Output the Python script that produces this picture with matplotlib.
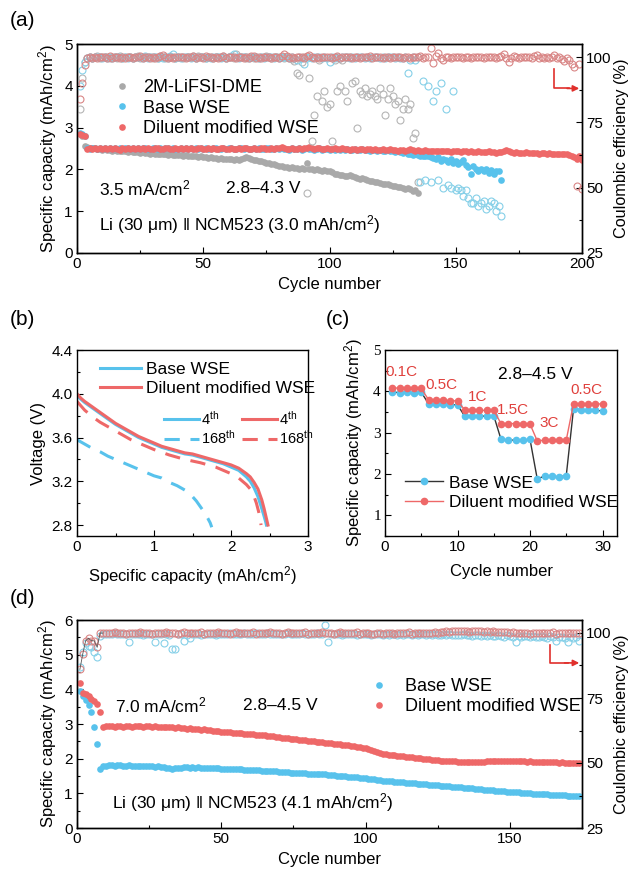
import matplotlib
matplotlib.use('Agg')
import matplotlib.pyplot as plt
import numpy as np
from matplotlib.lines import Line2D
from matplotlib.ticker import MultipleLocator

plt.rcParams['font.family'] = ['Liberation Sans', 'DejaVu Sans']
plt.rcParams['mathtext.fontset'] = 'custom'
plt.rcParams['mathtext.rm'] = 'Liberation Sans'
plt.rcParams['mathtext.it'] = 'Liberation Sans'
plt.rcParams['mathtext.default'] = 'regular'
plt.rcParams['xtick.direction'] = 'in'
plt.rcParams['ytick.direction'] = 'in'

# ---------------- Panel (a) data ----------------
a_red_cap = [2.85,2.82,2.80,2.49,2.50,2.48,2.51,2.49,2.50,2.48,
             2.50,2.49,2.51,2.48,2.50,2.49,2.47,2.50,2.49,2.51,
             2.48,2.50,2.49,2.50,2.48,2.51,2.49,2.50,2.48,2.49,
             2.51,2.50,2.48,2.49,2.50,2.52,2.49,2.48,2.50,2.49,
             2.50,2.48,2.51,2.49,2.50,2.49,2.48,2.50,2.51,2.49,
             2.48,2.50,2.49,2.50,2.48,2.49,2.51,2.50,2.48,2.49,
             2.50,2.49,2.48,2.50,2.49,2.51,2.50,2.48,2.49,2.50,
             2.49,2.48,2.50,2.51,2.49,2.48,2.50,2.49,2.50,2.52,
             2.53,2.50,2.48,2.49,2.50,2.49,2.48,2.50,2.49,2.51,
             2.52,2.53,2.50,2.49,2.51,2.50,2.48,2.49,2.50,2.49,
             2.48,2.50,2.49,2.48,2.50,2.49,2.48,2.47,2.49,2.48,
             2.47,2.49,2.48,2.47,2.48,2.49,2.47,2.48,2.46,2.47,
             2.48,2.46,2.47,2.48,2.46,2.47,2.45,2.46,2.47,2.45,
             2.46,2.48,2.47,2.45,2.46,2.44,2.45,2.46,2.44,2.45,
             2.44,2.45,2.43,2.44,2.45,2.43,2.44,2.42,2.43,2.44,
             2.43,2.42,2.44,2.43,2.42,2.43,2.41,2.42,2.43,2.42,
             2.41,2.42,2.43,2.41,2.42,2.40,2.41,2.42,2.44,2.46,
             2.43,2.41,2.40,2.41,2.40,2.39,2.40,2.41,2.40,2.39,
             2.40,2.39,2.38,2.39,2.40,2.38,2.39,2.38,2.37,2.38,
             2.37,2.38,2.36,2.37,2.35,2.33,2.30,2.25,2.32,2.22]

a_blue_cap = [2.88,2.84,2.80,2.50,2.49,2.51,2.50,2.48,2.50,2.49,
              2.50,2.48,2.51,2.49,2.50,2.48,2.50,2.49,2.51,2.50,
              2.49,2.50,2.48,2.50,2.49,2.51,2.50,2.48,2.49,2.50,
              2.51,2.49,2.50,2.48,2.50,2.52,2.49,2.50,2.48,2.49,
              2.50,2.49,2.51,2.48,2.50,2.49,2.50,2.48,2.51,2.49,
              2.50,2.48,2.49,2.50,2.51,2.49,2.48,2.50,2.49,2.51,
              2.50,2.48,2.49,2.50,2.52,2.49,2.50,2.48,2.49,2.50,
              2.49,2.50,2.48,2.49,2.51,2.50,2.49,2.48,2.50,2.49,
              2.50,2.48,2.49,2.47,2.50,2.49,2.48,2.50,2.47,2.49,
              2.50,2.48,2.49,2.47,2.48,2.50,2.47,2.49,2.48,2.46,
              2.48,2.47,2.49,2.46,2.48,2.47,2.49,2.46,2.47,2.48,
              2.46,2.47,2.48,2.46,2.47,2.45,2.47,2.46,2.45,2.47,
              2.45,2.44,2.46,2.43,2.44,2.42,2.43,2.41,2.40,2.41,
              2.38,2.36,2.35,2.36,2.34,2.33,2.32,2.33,2.31,2.30,
              2.28,2.25,2.30,2.20,2.26,2.22,2.18,2.24,2.15,2.20,
              2.12,2.18,2.22,2.10,2.05,1.90,2.08,2.00,1.96,2.02,
              1.95,2.00,1.92,1.98,1.90,1.95,1.97,1.75]

a_gray_cap = [2.85,2.80,2.56,2.53,2.52,2.50,2.51,2.49,2.48,2.47,
              2.48,2.46,2.47,2.45,2.46,2.44,2.45,2.43,2.44,2.42,
              2.43,2.42,2.41,2.42,2.40,2.41,2.39,2.40,2.38,2.39,
              2.38,2.37,2.38,2.36,2.37,2.35,2.36,2.35,2.34,2.35,
              2.34,2.33,2.34,2.32,2.33,2.31,2.32,2.30,2.31,2.30,
              2.29,2.28,2.29,2.27,2.28,2.26,2.27,2.25,2.26,2.24,
              2.25,2.23,2.24,2.22,2.26,2.28,2.29,2.27,2.25,2.23,
              2.22,2.20,2.19,2.18,2.16,2.15,2.13,2.12,2.10,2.08,
              2.07,2.06,2.05,2.04,2.05,2.03,2.04,2.02,2.03,2.01,
              2.15,2.02,2.00,1.99,2.01,1.98,1.97,1.99,1.96,1.95,
              1.93,1.90,1.88,1.86,1.87,1.85,1.84,1.86,1.85,1.83,
              1.80,1.78,1.80,1.76,1.74,1.73,1.72,1.70,1.69,1.68,
              1.66,1.65,1.64,1.62,1.61,1.60,1.58,1.57,1.55,1.54,
              1.55,1.52,1.48,1.50,1.43]

a_red_ce = [84,90,97,99.5,100,99.8,100.2,99.6,100.1,99.9,
            100,99.7,100.3,99.8,100,100.2,99.6,100.1,99.8,100,
            100.2,99.7,100,99.9,100.3,99.6,100,100.1,99.8,100.2,
            99.7,100,100.4,100.8,100.2,99.5,100,99.8,100.1,99.9,
            100,100.2,99.7,100,99.9,100.3,99.8,100,100.1,99.7,
            100.3,99.9,100,99.8,100.2,99.7,100,100.4,99.8,100.1,
            99.9,100.2,99.5,100,100.1,99.8,100.2,99.7,100.3,100.5,
            99.8,100,99.6,100.1,99.9,100.2,99.8,100,100.1,99.7,
            100.3,101.2,100.4,99.6,100,99.8,100.1,99.9,100.2,99.5,
            100.3,100.9,100.2,99.8,100,99.7,100.1,99.9,100,100.2,
            99.8,100,100.3,99.7,100.1,99.9,100,100.2,99.8,100,
            100.1,99.7,100.2,99.9,100,100.3,99.8,100,99.9,100.2,
            99.7,100.1,100,99.8,100.2,99.9,100,100.1,99.8,100,
            100.2,99.7,100,99.9,100.1,100.3,99.8,100,100.2,103.5,
            97.8,100.5,101.5,99.5,99,100.2,100,99.8,100.1,99.9,
            100,100.2,99.7,100,100.1,99.8,100.2,99.9,100,100.1,
            99.8,100,100.2,99.9,100.1,99.7,100,100.3,101.2,99.5,
            98,99.5,100.3,100,99.8,100.2,99.9,100.1,100,99.8,
            100.4,100.9,99.7,100.2,99.8,100,99.6,100.1,100.7,99.5,
            100,99.2,98.5,99.6,98.8,97.2,96.2,50.5,97.5,49.5]

a_blue_ce = [89,95,98,99.8,100,99.6,100.2,99.9,100,99.7,
             100.1,99.8,100,99.6,100.2,99.9,100,99.7,100.1,99.8,
             100,99.6,100.2,99.9,100,99.8,100.3,99.7,100,99.9,
             100.2,99.6,100,99.8,100.1,99.7,100.3,101,99.8,100,
             99.7,100.1,99.9,100,99.6,100.2,99.8,100,99.9,100.1,
             99.7,100,99.8,100.2,99.9,100,99.6,100.1,99.8,100,
             100.4,101.3,100,99.7,100.1,99.9,100,99.8,100.2,99.9,
             100,99.7,100.1,99.8,100,99.9,100.2,99.7,100,99.8,
             100.1,99.9,100,99.6,100.2,99.8,99,100,99.8,97.5,
             99.8,100,99.7,100.1,99.9,100,99.8,100.2,99.6,98,
             100,99.8,100.1,99.7,100,99.9,100.2,99.8,100,99.7,
             100.1,99.9,100,99.8,100.2,99.7,100,99.9,100.1,99.8,
             100,99.7,100.1,99.9,100,99.8,100.2,99.5,99.8,100,
             94,99,100,99,100,52,91,53,89,52,
             83,87,53,90,50,80,51,50,87,49,
             50,49,47,49,46,44,44,46,43,44,
             45,42,43,45,44,41,43,39]

a_gray_ce = [80,92,98,99.8,100.2,99.7,100,100.3,99.8,100.1,
             99.9,100.2,99.6,100,100.1,99.8,100.3,99.7,100,99.9,
             100.2,99.8,100,100.4,99.6,100.1,99.9,100,100.2,99.7,
             100,99.8,100.3,100.1,99.6,100,99.9,100.2,99.8,100,
             100.1,99.7,100.2,99.9,100,100.3,99.8,100.5,99.9,100.1,
             99.8,100,100.2,99.7,100.1,99.9,100,100.3,99.6,100,
             100.1,99.8,101,100,99.9,100.2,99.7,100,100.1,99.8,
             100,99.7,100.2,99.9,100.4,100,99.8,100.1,99.9,100,
             100.2,99.7,100,99.9,99.2,98.5,94,93,98,100,
             48,92,68,78,85,99,83,87,81,82,
             68,99,87,89,99,87,83,100,90,91,
             73,87,86,88,85,86,87,85,84,88,
             86,78,84,88,85,82,83,76,80,84,
             80,82,69,71,52]

# ---------------- Panel (b) data ----------------
b_blue4_q = [0,0.05,0.1,0.2,0.3,0.4,0.5,0.6,0.7,0.8,0.9,1.0,1.1,1.2,1.3,1.4,1.5,1.6,1.7,1.8,1.9,2.0,2.1,2.2,2.25,2.3,2.35,2.4,2.43,2.45,2.46]
b_blue4_v = [3.98,3.95,3.92,3.87,3.82,3.77,3.72,3.68,3.64,3.60,3.57,3.54,3.51,3.49,3.47,3.45,3.44,3.42,3.40,3.38,3.36,3.33,3.30,3.24,3.20,3.14,3.06,2.95,2.88,2.83,2.80]
b_red4_q = [0,0.05,0.1,0.2,0.3,0.4,0.5,0.6,0.7,0.8,0.9,1.0,1.1,1.2,1.3,1.4,1.5,1.6,1.7,1.8,1.9,2.0,2.1,2.2,2.25,2.3,2.35,2.4,2.43,2.46,2.48]
b_red4_v = [4.00,3.96,3.93,3.88,3.83,3.78,3.73,3.69,3.65,3.61,3.58,3.55,3.52,3.50,3.48,3.46,3.45,3.43,3.41,3.39,3.37,3.35,3.32,3.27,3.24,3.19,3.13,3.03,2.95,2.86,2.80]
b_red168_q = [0,0.05,0.1,0.2,0.3,0.4,0.5,0.6,0.7,0.8,0.9,1.0,1.2,1.4,1.6,1.8,1.9,2.0,2.1,2.2,2.25,2.3,2.33,2.36,2.38,2.39]
b_red168_v = [3.93,3.89,3.85,3.79,3.74,3.70,3.66,3.62,3.58,3.55,3.52,3.49,3.44,3.40,3.37,3.33,3.30,3.27,3.23,3.17,3.13,3.06,3.00,2.92,2.85,2.80]
b_blue168_q = [0,0.1,0.2,0.3,0.4,0.5,0.6,0.7,0.8,0.9,1.0,1.1,1.2,1.3,1.4,1.5,1.55,1.6,1.65,1.7,1.73,1.75]
b_blue168_v = [3.58,3.54,3.50,3.47,3.43,3.40,3.37,3.34,3.31,3.28,3.25,3.23,3.19,3.16,3.12,3.06,3.02,2.97,2.92,2.86,2.82,2.78]

# ---------------- Panel (c) data ----------------
c_cycles = list(range(1, 31))
c_blue = [3.98,3.97,3.98,3.97,3.98, 3.70,3.69,3.70,3.68,3.67,
          3.40,3.41,3.40,3.40,3.41, 2.84,2.82,2.82,2.82,2.84,
          1.88,1.95,1.95,1.93,1.96, 3.57,3.56,3.55,3.55,3.52]
c_red = [4.08,4.08,4.08,4.07,4.07, 3.80,3.78,3.78,3.77,3.77,
         3.55,3.54,3.54,3.54,3.54, 3.22,3.22,3.22,3.22,3.21,
         2.80,2.82,2.82,2.82,2.82, 3.70,3.70,3.70,3.70,3.69]
c_rate_labels = ['0.1C', '0.5C', '1C', '1.5C', '3C', '0.5C']
c_rate_x = [2.3, 7.8, 12.8, 17.7, 22.7, 27.8]
c_rate_y = [4.47, 4.15, 3.86, 3.55, 3.23, 4.03]

# ---------------- Panel (d) data ----------------
d_red_cap = [4.17,3.90,3.86,3.80,3.73,3.66,3.58,3.36,
             2.92,2.93,2.94,2.93,2.92,2.94,2.93,2.92,2.94,2.93,2.92,2.93,
             2.94,2.93,2.92,2.93,2.94,2.92,2.93,2.92,2.91,2.92,
             2.91,2.90,2.91,2.89,2.90,2.88,2.89,2.87,2.88,2.86,
             2.86,2.85,2.84,2.85,2.83,2.82,2.81,2.80,2.79,2.78,
             2.77,2.77,2.76,2.75,2.74,2.74,2.73,2.72,2.71,2.71,
             2.70,2.69,2.68,2.68,2.67,2.66,2.65,2.64,2.63,2.62,
             2.61,2.60,2.59,2.58,2.57,2.56,2.55,2.54,2.53,2.52,
             2.51,2.50,2.49,2.48,2.47,2.46,2.45,2.44,2.43,2.42,
             2.41,2.40,2.39,2.38,2.37,2.36,2.35,2.34,2.32,2.30,
             2.27,2.24,2.21,2.18,2.16,2.14,2.13,2.12,2.11,2.10,
             2.09,2.08,2.07,2.06,2.05,2.04,2.03,2.02,2.01,2.00,
             1.99,1.98,1.97,1.96,1.95,1.94,1.93,1.93,1.92,1.92,
             1.92,1.91,1.91,1.91,1.90,1.90,1.91,1.90,1.90,1.91,
             1.91,1.92,1.92,1.93,1.92,1.93,1.93,1.92,1.93,1.92,
             1.93,1.92,1.92,1.93,1.92,1.91,1.92,1.91,1.90,1.91,
             1.90,1.90,1.89,1.90,1.89,1.89,1.88,1.89,1.88,1.88,
             1.87,1.88,1.87,1.87]

d_blue_cap = [3.95,3.82,3.68,3.55,3.36,2.90,2.42,1.70,
              1.78,1.80,1.82,1.81,1.80,1.82,1.81,1.80,1.79,1.81,1.80,1.79,
              1.80,1.79,1.78,1.79,1.80,1.78,1.77,1.78,1.77,1.76,
              1.74,1.72,1.71,1.72,1.73,1.74,1.75,1.75,1.74,1.75,
              1.74,1.75,1.74,1.73,1.74,1.73,1.72,1.73,1.72,1.71,
              1.71,1.70,1.71,1.70,1.69,1.70,1.69,1.68,1.68,1.67,
              1.67,1.66,1.66,1.65,1.65,1.64,1.64,1.63,1.63,1.62,
              1.62,1.61,1.61,1.60,1.60,1.59,1.59,1.58,1.58,1.57,
              1.57,1.56,1.56,1.55,1.55,1.57,1.53,1.52,1.52,1.51,
              1.50,1.50,1.49,1.48,1.47,1.47,1.46,1.45,1.44,1.43,
              1.42,1.41,1.40,1.39,1.38,1.37,1.37,1.36,1.35,1.34,
              1.33,1.33,1.32,1.31,1.30,1.30,1.29,1.28,1.27,1.27,
              1.26,1.25,1.24,1.24,1.23,1.22,1.21,1.21,1.20,1.19,
              1.18,1.18,1.17,1.16,1.15,1.15,1.14,1.13,1.12,1.12,
              1.11,1.10,1.09,1.09,1.08,1.07,1.06,1.06,1.05,1.05,
              1.04,1.03,1.03,1.02,1.01,1.01,1.00,0.99,0.99,0.98,
              0.98,0.97,0.97,0.96,0.96,0.95,0.95,0.94,0.94,0.93,
              0.93,0.92,0.92,0.91]

d_red_ce = [86,92,97,98,97,97,94.5,100,
            100,100.1,99.9,100,100.2,99.9,100,100.1,99.8,100,100.1,99.9,
            100,100.2,99.9,100,100.1,99.8,100,100.1,99.9,100,
            100.2,99.9,100,100.1,99.8,100,100.2,99.9,100,100.1,
            99.9,100,100.2,99.8,100,100.1,99.9,100,100.2,99.9,
            100,100.1,99.8,100,100.2,99.9,100,100.1,99.9,100,
            100.2,99.8,100,100.1,99.9,100,100.2,99.9,100,100.1,
            99.8,100,100.2,99.9,100,100.1,99.9,100,100.2,99.8,
            100,100.1,99.9,100,100.2,99.9,100,100.1,99.8,100,
            100.2,99.9,100,100.1,99.9,100,100.2,99.8,100,100.1,
            99.9,99.6,99.8,100,100.1,99.7,100,99.9,100.1,99.8,
            100,100.1,99.9,100,100.2,99.8,100,100.1,99.9,100,
            100.1,99.9,100,100.2,100.1,100.3,100.4,100.6,100.5,100.7,
            100.6,100.8,100.7,100.6,100.8,100.5,100.7,100.9,100.6,100.7,
            100.5,100.6,100.4,100.6,100.3,100.5,100.2,100.4,100.3,100.1,
            100.2,100,100.1,99.9,100,100.1,99.8,100,100.1,99.9,
            100,100.1,99.9,100,100.2,99.8,100,100.1,99.9,100,
            100.1,99.9,100,100.1]

d_blue_ce = [87,92.7,96,95,94.5,92.7,90.8,99,
             99.6,99.8,99.5,99.7,99.9,99.6,99.8,99.5,99.7,96.5,99.6,99.8,
             99.5,99.7,99.4,99.6,99.8,99.5,96.5,99.7,99.5,96,
             99.6,99.3,94,94,99.5,99.7,97,99.4,98,99.6,
             99.5,99.7,99.4,99.6,99.8,99.5,99.7,99.4,99.6,99.8,
             99.5,99.7,99.9,99.6,99.8,99.5,99.7,99.9,99.6,99.8,
             99.7,99.9,99.6,99.8,99.7,99.9,99.6,99.8,99.7,99.5,
             99.8,99.6,99.9,99.7,99.5,99.8,99.6,99.9,99.7,99.5,
             99.8,99.6,99.9,99.7,99.5,103,96.5,99.6,99.8,99.5,
             99.7,99.4,99.6,99.8,99.5,99.7,99.4,99.6,99.8,99.5,
             99.7,99.4,99.6,99.8,99.5,99.3,99.6,99.2,99.5,99.7,
             99.4,99.6,99.3,99.5,99.7,99.4,99.6,99.3,99.5,99.7,
             99.4,99.6,99.3,99.5,99.2,99.4,99.6,99.3,99.5,99.2,
             99.4,99.1,99.3,99.5,99.2,99.4,99.0,99.3,99.1,98.8,
             99.2,98.9,99.3,99.0,98.7,99.2,98.9,98.5,99.1,98.8,
             98.6,96.5,98.9,98.6,99.0,98.7,98.4,98.9,98.6,98.3,
             98.8,98.5,98.2,98.7,98.4,97,98.6,98.3,98.0,96.5,
             98.4,98.1,98.5,97]

# ---------------- styles ----------------
RED = '#EE6868'
BLUE = '#58C2EC'
GRAY = '#A9A9A9'
RED_O = '#D98686'
BLUE_O = '#86D0E8'
GRAY_O = '#B5B5B5'
ARROW = '#E0302C'
TFS = 11
LFS = 12.5
MS = 4.8
W, H = 632.0, 871.0


def cyc(v):
    return np.arange(1, len(v) + 1)


def rect(l, r, t, b):
    return [l / W, 1 - b / H, (r - l) / W, (b - t) / H]


def style(ax):
    ax.tick_params(labelsize=TFS, length=4, width=0.8, pad=3)
    ax.tick_params(which='minor', length=2.5, width=0.8)
    for s in ax.spines.values():
        s.set_linewidth(1.0)


fig = plt.figure(figsize=(6.32, 8.71), dpi=100)

# ================= (a) =================
axa = fig.add_axes(rect(77, 582, 44, 253))
axa.plot(cyc(a_gray_cap), a_gray_cap, 'o', ms=MS, color=GRAY, mec='none', label='2M-LiFSI-DME', zorder=3)
axa.plot(cyc(a_blue_cap), a_blue_cap, 'o', ms=MS, color=BLUE, mec='none', label='Base WSE', zorder=4)
axa.plot(cyc(a_red_cap), a_red_cap, 'o', ms=MS, color=RED, mec='none', label='Diluent modified WSE', zorder=5)
axa.set_xlim(0, 200)
axa.set_ylim(0, 5)
axa.xaxis.set_major_locator(MultipleLocator(50))
axa.xaxis.set_minor_locator(MultipleLocator(25))
axa.yaxis.set_major_locator(MultipleLocator(1))
axa.set_xlabel('Cycle number', fontsize=LFS - 0.5, labelpad=4)
axa.set_ylabel('Specific capacity (mAh/cm$^2$)', fontsize=LFS - 0.5, labelpad=4)
style(axa)
axa2 = axa.twinx()
axa2.plot(cyc(a_gray_ce), a_gray_ce, 'o', ms=5, mfc='none', mec=GRAY_O, mew=0.8)
axa2.plot(cyc(a_blue_ce), a_blue_ce, 'o', ms=5, mfc='none', mec=BLUE_O, mew=0.8)
axa2.plot(cyc(a_red_ce), a_red_ce, 'o', ms=5, mfc='none', mec=RED_O, mew=0.8)
axa2.set_ylim(25, 105)
axa2.yaxis.set_major_locator(MultipleLocator(25))
axa2.yaxis.set_minor_locator(MultipleLocator(12.5))
axa2.set_ylabel('Coulombic efficiency (%)', fontsize=LFS - 0.8, labelpad=2)
style(axa2)
axa2.plot([189, 189, 195], [95.4, 88, 88], color=ARROW, lw=1.2)
axa2.annotate('', xy=(200, 88), xytext=(193, 88),
              arrowprops=dict(arrowstyle='-|>', color=ARROW, lw=1.2, mutation_scale=9))
h, l = axa.get_legend_handles_labels()
axa2.legend(h, l, loc='upper left', bbox_to_anchor=(0.035, 0.91), frameon=False,
            fontsize=LFS + 0.5, handletextpad=0.6, labelspacing=0.2, handlelength=1.2, markerscale=1.0)
axa2.text(0.044, 0.31, '3.5 mA/cm$^2$', transform=axa2.transAxes, fontsize=LFS, va='center')
axa2.text(0.296, 0.31, '2.8\u20134.3 V', transform=axa2.transAxes, fontsize=LFS, va='center')
axa2.text(0.044, 0.134, 'Li (30 \u03bcm) \u2016 NCM523 (3.0 mAh/cm$^2$)', transform=axa2.transAxes,
          fontsize=LFS, va='center')
fig.text(0.016, 0.977, '(a)', fontsize=15, va='center')

# ================= (b) =================
axb = fig.add_axes(rect(77, 308, 350, 536))
axb.plot(b_blue4_q, b_blue4_v, '-', color=BLUE, lw=2.2)
axb.plot(b_red4_q, b_red4_v, '-', color=RED, lw=2.2)
axb.plot(b_blue168_q, b_blue168_v, '--', color=BLUE, lw=2.2, dashes=(5, 3.5))
axb.plot(b_red168_q, b_red168_v, '--', color=RED, lw=2.2, dashes=(5, 3.5))
axb.set_xlim(0, 3)
axb.set_ylim(2.7, 4.4)
axb.xaxis.set_major_locator(MultipleLocator(1))
axb.xaxis.set_minor_locator(MultipleLocator(0.5))
axb.set_yticks([2.8, 3.2, 3.6, 4.0, 4.4])
axb.yaxis.set_minor_locator(MultipleLocator(0.2))
axb.set_xlabel('Specific capacity (mAh/cm$^2$)', fontsize=LFS - 0.5, labelpad=7)
axb.set_ylabel('Voltage (V)', fontsize=LFS - 0.5, labelpad=4)
style(axb)
lg1 = axb.legend([Line2D([], [], color=BLUE, lw=2.2), Line2D([], [], color=RED, lw=2.2)],
                 ['Base WSE', 'Diluent modified WSE'], loc='upper left', bbox_to_anchor=(0.03, 1.02),
                 frameon=False, fontsize=LFS, handlelength=2.4, handletextpad=0.3, labelspacing=0.2)
axb.add_artist(lg1)
axb.legend([Line2D([], [], color=BLUE, lw=2.2), Line2D([], [], color=BLUE, lw=2.2, ls='--', dashes=(5, 3.5)),
            Line2D([], [], color=RED, lw=2.2), Line2D([], [], color=RED, lw=2.2, ls='--', dashes=(5, 3.5))],
           ['4$^{th}$', '168$^{th}$', '4$^{th}$', '168$^{th}$'], ncol=2, loc='upper left',
           bbox_to_anchor=(0.32, 0.75), frameon=False, fontsize=10.5, handlelength=2.4,
           handletextpad=0.15, labelspacing=0.1, columnspacing=0.4)
fig.text(0.016, 0.633, '(b)', fontsize=15, va='center')

# ================= (c) =================
axc = fig.add_axes(rect(385, 617, 350, 536))
axc.plot(c_cycles, c_blue, '-', color='#333333', lw=1.0, marker='o', ms=4.5, mfc=BLUE, mec=BLUE, zorder=3)
axc.plot(c_cycles, c_red, '-', color=RED, lw=1.0, marker='o', ms=4.5, mfc=RED, mec=RED, zorder=3)
axc.set_xlim(0, 32)
axc.set_ylim(0.5, 5)
axc.xaxis.set_major_locator(MultipleLocator(10))
axc.xaxis.set_minor_locator(MultipleLocator(5))
axc.yaxis.set_major_locator(MultipleLocator(1))
axc.yaxis.set_minor_locator(MultipleLocator(0.5))
axc.set_xlabel('Cycle number', fontsize=LFS - 0.5, labelpad=7)
axc.set_ylabel('Specific capacity (mAh/cm$^2$)', fontsize=LFS - 0.5, labelpad=6)
style(axc)
for t in axc.get_yticklabels():
    t.set_fontfamily('Liberation Serif')
for lab, x, y in zip(c_rate_labels, c_rate_x, c_rate_y):
    axc.text(x, y, lab, color='#E0403C', fontsize=11, ha='center', va='center')
axc.text(20.8, 4.4, '2.8\u20134.5 V', fontsize=LFS, ha='center', va='center')
axc.legend([Line2D([], [], color='#333333', lw=1.0, marker='o', ms=4.5, mfc=BLUE, mec=BLUE),
            Line2D([], [], color=RED, lw=1.0, marker='o', ms=4.5, mfc=RED, mec=RED)],
           ['Base WSE', 'Diluent modified WSE'], loc='upper left', bbox_to_anchor=(0.02, 0.41),
           frameon=False, fontsize=LFS, handlelength=2.2, handletextpad=0.3, labelspacing=0.25)
fig.text(0.515, 0.633, '(c)', fontsize=15, va='center')

# ================= (d) =================
axd = fig.add_axes(rect(77, 582, 620, 828))
axd.plot(cyc(d_blue_cap), d_blue_cap, 'o', ms=MS, color=BLUE, mec='none', label='Base WSE', zorder=4)
axd.plot(cyc(d_red_cap), d_red_cap, 'o', ms=MS, color=RED, mec='none', label='Diluent modified WSE', zorder=5)
axd.set_xlim(0, 175)
axd.set_ylim(0, 6)
axd.xaxis.set_major_locator(MultipleLocator(50))
axd.xaxis.set_minor_locator(MultipleLocator(25))
axd.yaxis.set_major_locator(MultipleLocator(1))
axd.yaxis.set_minor_locator(MultipleLocator(0.5))
axd.set_xlabel('Cycle number', fontsize=LFS - 0.5, labelpad=4)
axd.set_ylabel('Specific capacity (mAh/cm$^2$)', fontsize=LFS - 0.5, labelpad=4)
style(axd)
axd2 = axd.twinx()
axd2.plot(cyc(d_blue_ce), d_blue_ce, 'o', ms=5, mfc='none', mec=BLUE_O, mew=0.8)
axd2.plot(cyc(d_red_ce), d_red_ce, 'o', ms=5, mfc='none', mec=RED_O, mew=0.8)
axd2.plot(cyc(d_red_ce)[:9], d_red_ce[:9], '-', color='#555555', lw=0.6)
axd2.set_ylim(25, 105)
axd2.yaxis.set_major_locator(MultipleLocator(25))
axd2.yaxis.set_minor_locator(MultipleLocator(12.5))
axd2.set_ylabel('Coulombic efficiency (%)', fontsize=LFS - 0.8, labelpad=2)
style(axd2)
axd2.plot([164, 164, 170], [95.4, 88.5, 88.5], color=ARROW, lw=1.2)
axd2.annotate('', xy=(175, 88.5), xytext=(168, 88.5),
              arrowprops=dict(arrowstyle='-|>', color=ARROW, lw=1.2, mutation_scale=9))
h, l = axd.get_legend_handles_labels()
axd2.legend(h, l, loc='upper left', bbox_to_anchor=(0.545, 0.80), frameon=False,
            fontsize=LFS + 0.5, handletextpad=0.8, labelspacing=0.2, handlelength=1.2, markerscale=1.0)
axd2.text(0.0755, 0.587, '7.0 mA/cm$^2$', transform=axd2.transAxes, fontsize=LFS, va='center')
axd2.text(0.328, 0.587, '2.8\u20134.5 V', transform=axd2.transAxes, fontsize=LFS, va='center')
axd2.text(0.07, 0.12, 'Li (30 \u03bcm) \u2016 NCM523 (4.1 mAh/cm$^2$)', transform=axd2.transAxes,
          fontsize=LFS, va='center')
fig.text(0.016, 0.313, '(d)', fontsize=15, va='center')

fig.savefig('out.png', dpi=100)
